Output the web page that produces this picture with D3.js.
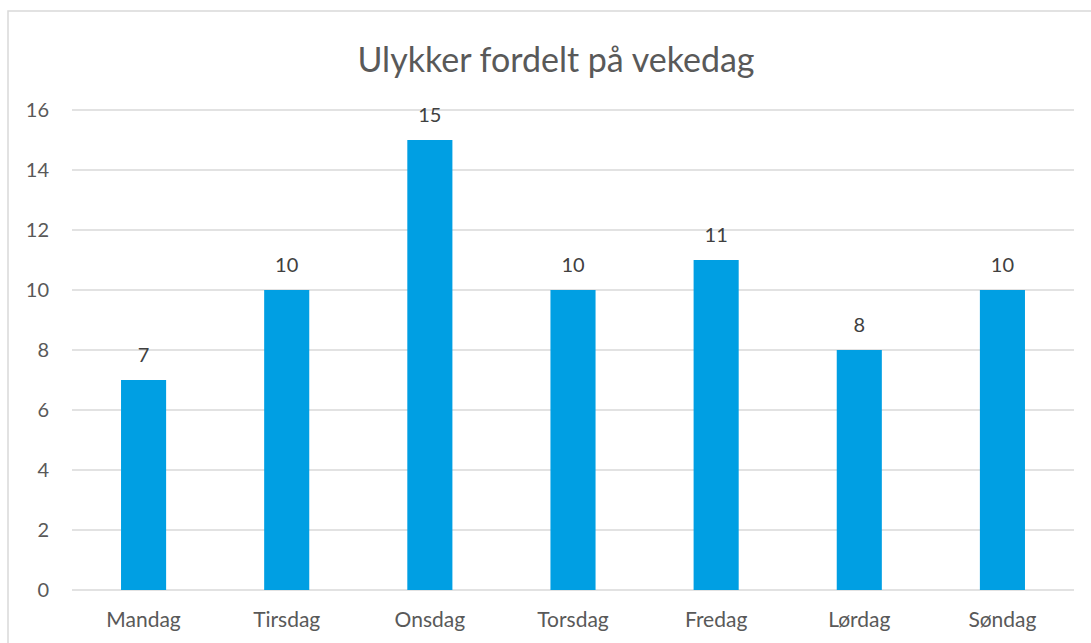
<!DOCTYPE html>
<html>
<head>
<meta charset="utf-8">
<script src="https://cdn.jsdelivr.net/npm/d3@7"></script>
<style>
  body { margin: 0; background: #fff; }
  text { font-family: Lato, "Open Sans", sans-serif; }
</style>
</head>
<body>
<div class="canvas"></div>
<script>
const days = ['Mandag', 'Tirsdag', 'Onsdag', 'Torsdag', 'Fredag', 'Lørdag', 'Søndag'];
const accidents = [7, 10, 15, 10, 11, 8, 10];
const yTicks = [0, 2, 4, 6, 8, 10, 12, 14, 16];

const width = 1091, height = 643;
const plot = { left: 72, right: 1074, top: 110, bottom: 590 };

const svg = d3.select('.canvas')
  .append('svg')
  .attr('width', width)
  .attr('height', height);

// chart frame (cropped at right and bottom like the original)
svg.append('rect')
  .attr('x', 8).attr('y', 11)
  .attr('width', 1200).attr('height', 800)
  .attr('fill', 'none')
  .attr('stroke', '#d9d9d9')
  .attr('stroke-width', 1.5);

const x = d3.scaleBand()
  .domain(days)
  .range([plot.left, plot.right])
  .paddingInner(0.685)
  .paddingOuter(0.3425);

const y = d3.scaleLinear()
  .domain([0, 16])
  .range([plot.bottom, plot.top]);

// gridlines
svg.append('g')
  .selectAll('line')
  .data(yTicks)
  .join('line')
  .attr('x1', plot.left).attr('x2', plot.right)
  .attr('y1', d => y(d)).attr('y2', d => y(d))
  .attr('stroke', '#d9d9d9')
  .attr('stroke-width', 1.3);

// y tick labels
svg.append('g')
  .selectAll('text')
  .data(yTicks)
  .join('text')
  .attr('x', 49)
  .attr('y', d => y(d))
  .attr('dy', '0.35em')
  .attr('text-anchor', 'end')
  .attr('font-size', 20)
  .attr('fill', '#595959')
  .text(d => d);

// bars
svg.append('g')
  .selectAll('rect')
  .data(accidents)
  .join('rect')
  .attr('x', (d, i) => x(days[i]))
  .attr('y', d => y(d))
  .attr('width', x.bandwidth())
  .attr('height', d => y(0) - y(d))
  .attr('fill', '#009fe3');

// value labels
svg.append('g')
  .selectAll('text')
  .data(accidents)
  .join('text')
  .attr('x', (d, i) => x(days[i]) + x.bandwidth() / 2)
  .attr('y', d => y(d) - 18)
  .attr('text-anchor', 'middle')
  .attr('font-size', 20)
  .attr('fill', '#404040')
  .text(d => d);

// category labels
svg.append('g')
  .selectAll('text')
  .data(days)
  .join('text')
  .attr('x', d => x(d) + x.bandwidth() / 2)
  .attr('y', 627)
  .attr('text-anchor', 'middle')
  .attr('font-size', 21)
  .attr('fill', '#595959')
  .text(d => d);

// title
svg.append('text')
  .attr('x', 556)
  .attr('y', 72)
  .attr('text-anchor', 'middle')
  .attr('font-size', 34)
  .attr('fill', '#595959')
  .text('Ulykker fordelt på vekedag');
</script>
</body>
</html>
